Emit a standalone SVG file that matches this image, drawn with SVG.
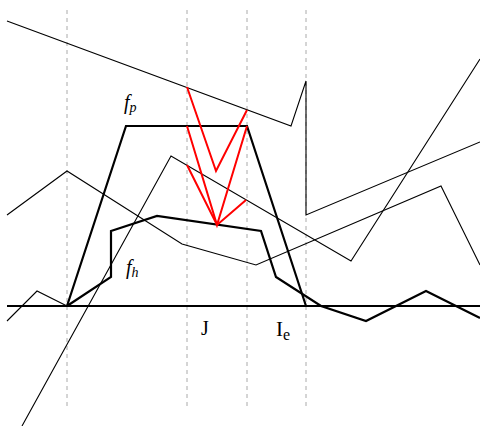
<svg xmlns="http://www.w3.org/2000/svg" width="480" height="426" viewBox="0 0 480 426">
<style>
.dash{stroke:#aaa;stroke-width:1;stroke-dasharray:4,4;fill:none}
.thin{stroke:#000;stroke-width:1.1;fill:none;stroke-linejoin:miter}
.thick{stroke:#000;stroke-width:2.2;fill:none;stroke-linejoin:miter}
.red{stroke:#f00;stroke-width:2;fill:none}
.lab{font-family:"Liberation Serif","DejaVu Serif",serif;fill:#000}
</style>
<rect width="480" height="426" fill="#fff"/>
<g id="guides">
<line class="dash" x1="67" y1="10" x2="67" y2="410"/>
<line class="dash" x1="187" y1="10" x2="187" y2="410"/>
<line class="dash" x1="247" y1="10" x2="247" y2="410"/>
<line class="dash" x1="306" y1="10" x2="306" y2="410"/>
</g>
<g id="connectors">
<polyline class="thin" points="7,21 291,126 306,81 306,215 480,142"/>
<polyline class="thin" points="7,215 67,171 182,244 256,265 441,186 480,265"/>
<polyline class="thin" points="22,426 171,156 351,261 480,59"/>
<polyline class="thin" points="7,321 37,291 67,306"/>
</g>
<g id="axis">
<line class="thick" x1="7" y1="306" x2="480" y2="306"/>
</g>
<g id="fp">
<polyline class="thick" points="67,306 126,126 247,126 306,306"/>
</g>
<g id="fh">
<polyline class="thick" points="67,306 111,277 111,231 157,216 261,231 276,277 321,306 366,321 426,291 480,318"/>
</g>
<g id="red">
<polyline class="red" points="187,87 216,171 247,110"/>
<polyline class="red" points="187,126 217,225 247,126"/>
<polyline class="red" points="187,165 217,225 246,200"/>
</g>
<g id="labels">
<text class="lab" x="124" y="109" font-size="20" font-style="italic">f<tspan font-size="14" dy="3">p</tspan></text>
<text class="lab" x="126" y="274" font-size="20" font-style="italic">f<tspan font-size="14" dy="3">h</tspan></text>
<text class="lab" x="201" y="335" font-size="20">J</text>
<text class="lab" x="276" y="336" font-size="21">I<tspan font-size="16" dy="4">e</tspan></text>
</g>
</svg>
